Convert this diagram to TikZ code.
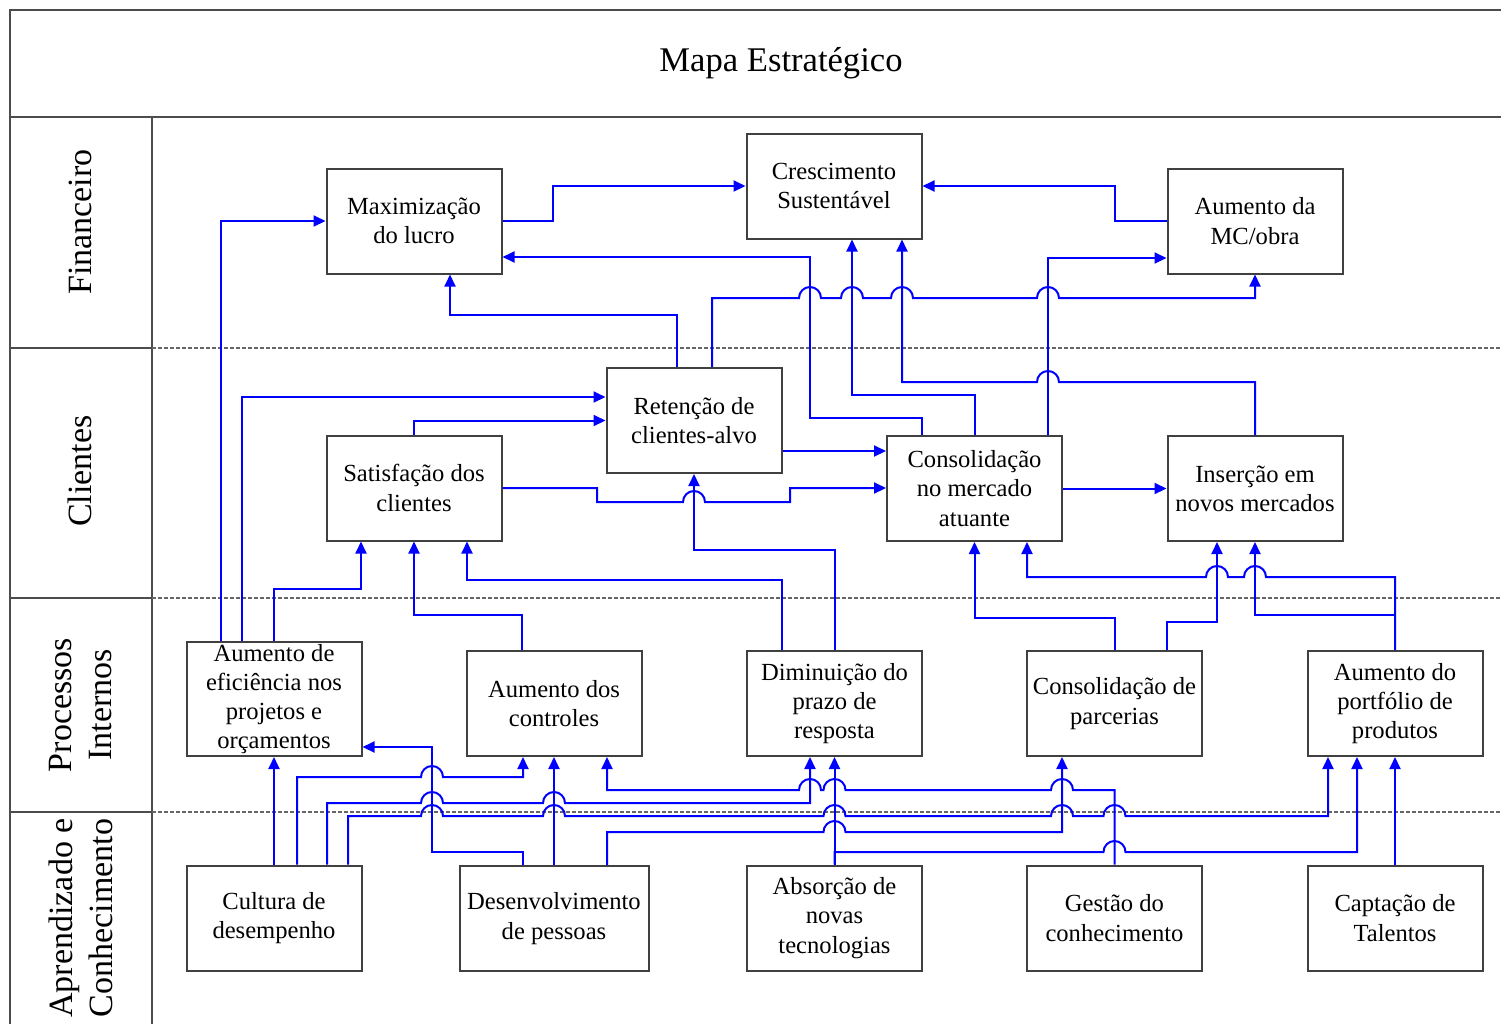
\documentclass[tikz,border=0pt]{standalone}
\usepackage{fontspec}
\setmainfont{Liberation Serif}
\usetikzlibrary{arrows.meta}
\newcommand\hopR[2]{-- ({#1-11},#2) arc[start angle=180,end angle=0,radius=5.5pt]}
\newcommand\hopL[2]{-- ({#1+11},#2) arc[start angle=0,end angle=180,radius=5.5pt]}
\begin{document}
\begin{tikzpicture}[x=0.5pt,y=-0.5pt,
  box/.style={draw=black!75,line width=1pt,fill=white,align=center,inner sep=0pt,
    minimum width=87.5pt,minimum height=52.5pt,font=\fontsize{12.3}{14.6}\selectfont},
  con/.style={draw=blue,line width=1pt,-{Triangle[length=6pt,width=5.5pt]}},
  frm/.style={draw=black!70,line width=1.2pt},
  sep/.style={draw=black!60,line width=0.9pt,dash pattern=on 2pt off 1pt},
  lane/.style={rotate=90,align=center,font=\fontsize{17}{20}\selectfont}]
\useasboundingbox (0,0) rectangle (1501,1024);
% frame
\draw[frm] (10,1024) -- (10,10) -- (1501,10);
\draw[frm] (10,117) -- (1501,117);
\draw[frm] (152,117) -- (152,1024);
\foreach \y in {348,598,812} {
  \draw[frm] (10,\y) -- (152,\y);
  \draw[sep] (152,\y) -- (1501,\y);
}
\node[font=\fontsize{17.3}{20}\selectfont] (title) at (781,63) {Mapa Estratégico};
\node[lane] (lf) at (80,222) {Financeiro};
\node[lane] (lc) at (80,471) {Clientes};
\node[lane] (lp) at (81,705) {Processos\\Internos};
\node[lane] (la) at (81,918) {Aprendizado e\\Conhecimento};
% boxes
\node[box] (max) at (414,221) {Maximização\\do lucro};
\node[box] (cresc) at (834,186) {Crescimento\\Sustentável};
\node[box] (amc) at (1255,221) {Aumento da\\MC/obra};
\node[box] (ret) at (694,420.5) {Retenção de\\clientes-alvo};
\node[box] (sat) at (414,488) {Satisfação dos\\clientes};
\node[box] (cm) at (974.5,488.5) {Consolidação\\no mercado\\atuante};
\node[box] (ins) at (1255,488.5) {Inserção em\\novos mercados};
\node[box,minimum height=57pt] (aef) at (274,699) {Aumento de\\eficiência nos\\projetos e\\orçamentos};
\node[box] (actl) at (554,703.5) {Aumento dos\\controles};
\node[box] (dim) at (834.5,703.5) {Diminuição do\\prazo de\\resposta};
\node[box] (cp) at (1114.5,703.5) {Consolidação de\\parcerias};
\node[box] (ap) at (1395,703.5) {Aumento do\\portfólio de\\produtos};
\node[box] (cult) at (274,918) {Cultura de\\desempenho};
\node[box,minimum width=94.5pt] (des) at (554,918.5) {Desenvolvimento\\de pessoas};
\node[box] (abs) at (834.5,918) {Absorção de\\novas\\tecnologias};
\node[box] (gc) at (1114.5,918) {Gestão do\\conhecimento};
\node[box] (capt) at (1395,918) {Captação de\\Talentos};
% financial
\draw[con] (max.east) -- (553,221) |- (cresc.west);
\draw[con] (amc.west) -- (1115,221) |- (cresc.east);
\draw[con] (aef.north -| 221,0) |- (max.west);
\draw[con] (ret.north -| 677,0) -- (677,315) -| (max.south -| 450,0);
\draw[con] (cm.north -| 922,0) -- (922,418) -- (810,418) -- (810,257) -- (max.east |- 0,257);
\draw[con] (ret.north -| 712,0) -- (712,298) \hopR{810}{298} \hopR{852}{298} \hopR{902}{298} \hopR{1048}{298} -| (amc.south);
\draw[con] (cm.north -| 975,0) -- (975,395) -| (cresc.south -| 852,0);
\draw[con] (ins.north) -- (1255,382) \hopL{1048}{382} -| (cresc.south -| 902,0);
\draw[con] (cm.north -| 1048,0) |- (amc.west |- 0,258);
% clients
\draw[con] (aef.north -| 242,0) |- (ret.west |- 0,397);
\draw[con] (sat.north) |- (ret.west);
\draw[con] (sat.east) -- (597,488) -- (597,502) \hopR{694}{502} -- (790,502) -- (790,488) -- (cm.west |- 0,488);
\draw[con] (ret.east |- 0,451) -- (cm.west |- 0,451);
\draw[con] (cm.east) -- (ins.west);
% internal processes
\draw[con] (dim.north) -- (834.5,550) -| (ret.south);
\draw[con] (dim.north -| 782,0) -- (782,580) -| (sat.south -| 467,0);
\draw[con] (aef.north) -- (274,589) -| (sat.south -| 361,0);
\draw[con] (actl.north -| 522,0) -- (522,615) -| (sat.south);
\draw[con] (cp.north) -- (1114.5,618) -| (cm.south);
\draw[con] (ap.north) -- (1395,577) \hopL{1255}{577} \hopL{1217}{577} -| (cm.south -| 1027,0);
\draw[con] (ap.north) -- (1395,615) -| (ins.south);
\draw[con] (cp.north -| 1167,0) -- (1167,622) -| (ins.south -| 1217,0);
% learning
\draw[con] (cult.north) -- (aef.south);
\draw[con] (cult.north -| 297,0) -- (297,777) \hopR{432}{777} -| (actl.south -| 523,0);
\draw[con] (cult.north -| 327,0) -- (327,803) \hopR{432}{803} \hopR{554}{803} -| (dim.south -| 810,0);
\draw[con] (cult.north -| 348,0) -- (348,816) \hopR{432}{816} \hopR{554}{816} \hopR{834.5}{816} \hopR{1062}{816} \hopR{1114.5}{816} -| (ap.south -| 1328,0);
\draw[con] (des.north -| 523,0) -- (523,852) -- (432,852) |- (aef.east |- 0,747);
\draw[con] (des.north) -- (actl.south);
\draw[con] (des.north -| 607,0) -- (607,832) \hopR{834.5}{832} -| (cp.south -| 1062,0);
\draw[con] (gc.north) -- (1114.5,790) \hopL{1062}{790} \hopL{834.5}{790} \hopL{810}{790} -| (actl.south -| 607,0);
\draw[con] (abs.north) -- (dim.south);
\draw[con] (abs.north) -- (834.5,852) \hopR{1114.5}{852} -| (ap.south -| 1357,0);
\draw[con] (capt.north) -- (ap.south);
\end{tikzpicture}
\end{document}
